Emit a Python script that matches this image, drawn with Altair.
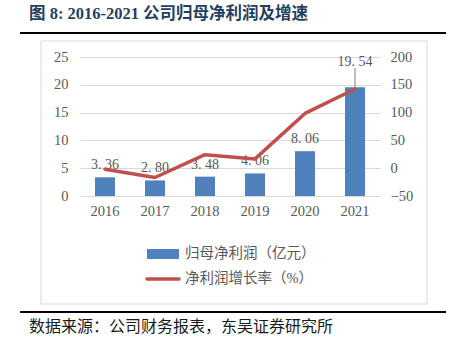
import altair as alt
import pandas as pd

years = ["2016", "2017", "2018", "2019", "2020", "2021"]
profit = [3.36, 2.80, 3.48, 4.06, 8.06, 19.54]
growth = [-2.0, -16.7, 24.3, 16.7, 98.5, 142.4]
profit_labels = ["3. 36", "2. 80", "3. 48", "4. 06", "8. 06", "19. 54"]
left_ticks = [0, 5, 10, 15, 20, 25]
right_ticks = [-50, 0, 50, 100, 150, 200]

title_text = "图 8:  2016-2021 公司归母净利润及增速"
legend_bar = "归母净利润（亿元）"
legend_line = "净利润增长率（%）"
source_text = "数据来源：公司财务报表，东吴证券研究所"

df = pd.DataFrame({"year": years, "profit": profit, "growth": growth, "label": profit_labels})

BLUE = "#4F81BD"
RED = "#C0504D"
GRAY = "#595959"
GRID = "#D9D9D9"
FONT = "Liberation Serif, 'Noto Sans CJK SC'"

base = alt.Chart(df)
xenc = alt.X("year:N", sort=years, title=None,
             scale=alt.Scale(paddingInner=0.6, paddingOuter=0.3),
             axis=alt.Axis(labelAngle=0, labelFontSize=14.5, labelColor=GRAY, labelFont=FONT,
                           ticks=False, domain=False, labelPadding=8))

yl = alt.Y("profit:Q", title=None,
           scale=alt.Scale(domain=[0, 25], nice=False),
           axis=alt.Axis(values=left_ticks, labelFontSize=14.5, labelColor=GRAY, labelFont=FONT,
                         ticks=False, domain=False, gridColor=GRID, labelPadding=12))

bars = base.mark_bar(color=BLUE).encode(x=xenc, y=yl)

labels = base.transform_filter(alt.datum.profit < 15).mark_text(
    fontSize=14, color=GRAY, font=FONT, baseline="middle", dy=-12
).encode(x=xenc, y=yl, text="label:N")

labels_top = base.transform_filter(alt.datum.profit >= 15).mark_text(
    fontSize=14, color=GRAY, font=FONT, baseline="middle", dy=-25
).encode(x=xenc, y=yl, text="label:N")

leader = base.transform_filter(alt.datum.profit >= 15).transform_calculate(
    top="datum.profit + 3.5"
).mark_rule(color="#7F7F7F", strokeWidth=1).encode(x=xenc, y=yl, y2="top:Q")

left_layer = alt.layer(bars, leader, labels, labels_top)

yr = alt.Y("growth:Q", title=None,
           scale=alt.Scale(domain=[-50, 200], nice=False),
           axis=alt.Axis(values=right_ticks, orient="right", labelFontSize=14.5, labelColor=GRAY,
                         labelFont=FONT, ticks=False, domain=False, grid=False, labelPadding=10))

line = base.mark_line(color=RED, strokeWidth=3.5, strokeCap="round", strokeJoin="round").encode(x=xenc, y=yr)

main = alt.layer(left_layer, line).resolve_scale(y="independent")

one = pd.DataFrame({"k": [0]})
dec = alt.Chart(one)

title = dec.mark_text(text=title_text, fontSize=16.5, fontWeight="bold", color="#243F60",
                      font=FONT, align="left", baseline="middle").encode(
    x=alt.value(-51), y=alt.value(-43))
top_line = dec.mark_rule(color="black", strokeWidth=2).encode(
    x=alt.value(-60), x2=alt.value(366), y=alt.value(-24))
box = dec.mark_rect(fill=None, stroke=GRID, strokeWidth=1).encode(
    x=alt.value(-39), x2=alt.value(347), y=alt.value(-16), y2=alt.value(247))
bottom_line = dec.mark_rule(color="black", strokeWidth=2).encode(
    x=alt.value(-60), x2=alt.value(366), y=alt.value(255))
source = dec.mark_text(text=source_text, fontSize=16, color="#1A1A1A", font=FONT,
                       align="left", baseline="middle").encode(x=alt.value(-51), y=alt.value(270))
leg_rect = dec.mark_rect(color=BLUE).encode(
    x=alt.value(67), x2=alt.value(99), y=alt.value(192), y2=alt.value(202))
leg_text1 = dec.mark_text(text=legend_bar, fontSize=14.5, color=GRAY, font=FONT,
                          align="left", baseline="middle").encode(x=alt.value(105), y=alt.value(197))
leg_line = dec.mark_rule(color=RED, strokeWidth=3.5, strokeCap="round").encode(
    x=alt.value(67), x2=alt.value(99), y=alt.value(222))
leg_text2 = dec.mark_text(text=legend_line, fontSize=14.5, color=GRAY, font=FONT,
                          align="left", baseline="middle").encode(x=alt.value(105), y=alt.value(222))

chart = alt.layer(box, main, title, top_line, bottom_line, source, leg_rect, leg_text1,
                  leg_line, leg_text2).properties(
    width=300, height=139,
    autosize=alt.AutoSizeParams(type="none"),
    padding={"left": 80, "top": 57, "right": 70, "bottom": 149},
    background="white",
).configure_view(stroke=None)

chart.save("out.html", embed_options={"renderer": "svg", "actions": False})
